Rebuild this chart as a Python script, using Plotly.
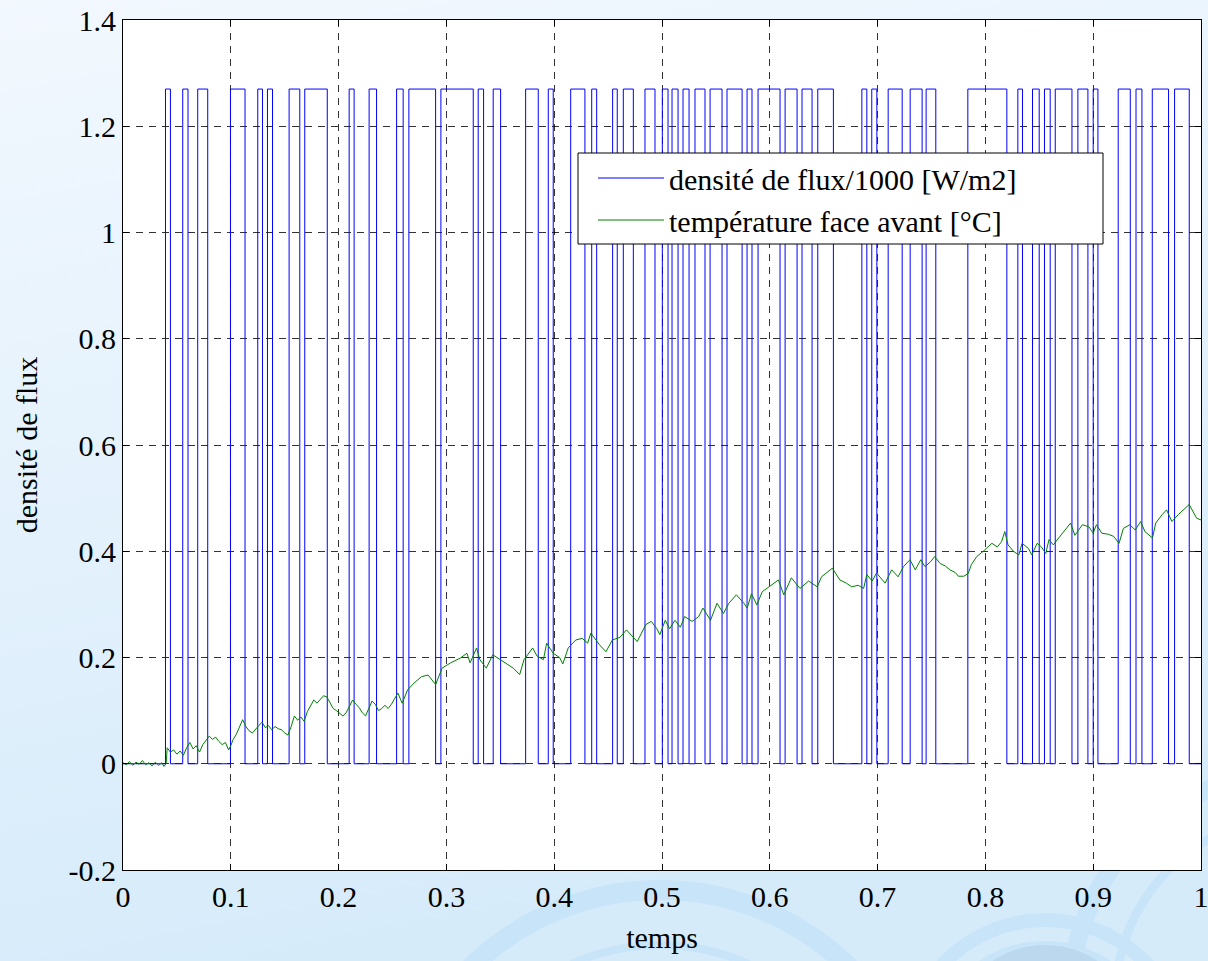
import base64
import plotly.graph_objects as go

# ---------------- data ----------------
FLUX_HIGH = 1.27  # flux density / 1000 during "on" periods

# PRBS flux: times where the flux switches on / off
rise_t = [0.0394, 0.0554, 0.0693, 0.0997, 0.1250, 0.1340, 0.1541, 0.1686, 0.2098, 0.2283,
          0.2538, 0.2652, 0.2949, 0.3295, 0.3434, 0.3735, 0.3945, 0.4153, 0.4348, 0.4542,
          0.4641, 0.4842, 0.5003, 0.5093, 0.5195, 0.5306, 0.5446, 0.5603, 0.5789, 0.5891,
          0.6142, 0.6299, 0.6445, 0.6854, 0.6946, 0.7098, 0.7302, 0.7450, 0.7837, 0.8301,
          0.8437, 0.8548, 0.8648, 0.8858, 0.9000, 0.9232, 0.9397, 0.9548, 0.9755]
fall_t = [0.0440, 0.0603, 0.0786, 0.1132, 0.1294, 0.1387, 0.1640, 0.1895, 0.2144, 0.2352,
          0.2599, 0.2900, 0.3249, 0.3345, 0.3503, 0.3852, 0.3991, 0.4285, 0.4394, 0.4585,
          0.4734, 0.4935, 0.5056, 0.5149, 0.5251, 0.5399, 0.5557, 0.5743, 0.5835, 0.6095,
          0.6253, 0.6392, 0.6590, 0.6900, 0.6993, 0.7228, 0.7413, 0.7540, 0.8199, 0.8344,
          0.8499, 0.8601, 0.8803, 0.8951, 0.9044, 0.9344, 0.9452, 0.9699, 0.9891]

# front face temperature
temp_t = [0.000, 0.003, 0.006, 0.009, 0.012, 0.015, 0.018, 0.021, 0.024, 0.027,
          0.030, 0.033, 0.036, 0.038, 0.040, 0.041, 0.044, 0.047, 0.050, 0.053,
          0.056, 0.059, 0.062, 0.065, 0.068, 0.071, 0.074, 0.077, 0.080, 0.083,
          0.086, 0.089, 0.092, 0.095, 0.098, 0.100, 0.102, 0.105, 0.108, 0.111,
          0.114, 0.117, 0.120, 0.123, 0.126, 0.129, 0.132, 0.135, 0.138, 0.141,
          0.144, 0.147, 0.150, 0.153, 0.156, 0.159, 0.162, 0.165, 0.168, 0.171,
          0.174, 0.177, 0.180, 0.183, 0.186, 0.189, 0.192, 0.195, 0.198, 0.201,
          0.204, 0.207, 0.210, 0.213, 0.216, 0.219, 0.222, 0.225, 0.228, 0.231,
          0.234, 0.237, 0.240, 0.243, 0.246, 0.249, 0.255, 0.259, 0.264, 0.270,
          0.277, 0.283, 0.290, 0.296, 0.304, 0.313, 0.319, 0.322, 0.328, 0.331,
          0.337, 0.343, 0.350, 0.356, 0.362, 0.368, 0.372, 0.380, 0.384, 0.390,
          0.393, 0.399, 0.405, 0.408, 0.413, 0.420, 0.426, 0.431, 0.434, 0.442,
          0.448, 0.454, 0.461, 0.467, 0.473, 0.477, 0.485, 0.490, 0.495, 0.498,
          0.503, 0.507, 0.512, 0.517, 0.521, 0.528, 0.534, 0.538, 0.545, 0.551,
          0.557, 0.562, 0.569, 0.576, 0.579, 0.583, 0.588, 0.593, 0.600, 0.608,
          0.613, 0.620, 0.628, 0.636, 0.644, 0.648, 0.658, 0.665, 0.671, 0.676,
          0.682, 0.687, 0.690, 0.695, 0.699, 0.707, 0.713, 0.719, 0.724, 0.730,
          0.735, 0.740, 0.744, 0.749, 0.753, 0.758, 0.763, 0.767, 0.772, 0.775,
          0.780, 0.784, 0.787, 0.792, 0.798, 0.806, 0.811, 0.815, 0.818, 0.821,
          0.826, 0.831, 0.834, 0.840, 0.843, 0.848, 0.852, 0.856, 0.859, 0.863,
          0.868, 0.874, 0.879, 0.883, 0.890, 0.896, 0.900, 0.903, 0.908, 0.914,
          0.919, 0.924, 0.928, 0.934, 0.939, 0.944, 0.948, 0.955, 0.958, 0.964,
          0.968, 0.973, 0.979, 0.989, 0.993, 0.996, 1.000]
temp_v = [0.002, -0.002, 0.004, -0.003, 0.003, -0.001, 0.006, -0.002, 0.002, -0.004,
          0.003, -0.003, 0.002, -0.005, 0.000, 0.030, 0.022, 0.026, 0.018, 0.024,
          0.016, 0.030, 0.040, 0.028, 0.034, 0.022, 0.036, 0.044, 0.052, 0.046,
          0.050, 0.042, 0.036, 0.040, 0.026, 0.034, 0.045, 0.055, 0.068, 0.083,
          0.070, 0.062, 0.058, 0.066, 0.072, 0.078, 0.068, 0.072, 0.064, 0.070,
          0.066, 0.064, 0.058, 0.054, 0.070, 0.090, 0.082, 0.088, 0.080, 0.098,
          0.108, 0.120, 0.114, 0.122, 0.128, 0.126, 0.114, 0.104, 0.100, 0.094,
          0.090, 0.096, 0.108, 0.120, 0.112, 0.106, 0.096, 0.090, 0.104, 0.118,
          0.112, 0.100, 0.104, 0.110, 0.104, 0.112, 0.133, 0.114, 0.139, 0.152,
          0.164, 0.167, 0.149, 0.180, 0.190, 0.199, 0.208, 0.190, 0.218, 0.196,
          0.180, 0.205, 0.196, 0.188, 0.180, 0.168, 0.196, 0.218, 0.203, 0.196,
          0.227, 0.208, 0.200, 0.188, 0.218, 0.233, 0.236, 0.227, 0.246, 0.224,
          0.211, 0.233, 0.238, 0.252, 0.240, 0.230, 0.262, 0.268, 0.255, 0.243,
          0.270, 0.254, 0.270, 0.257, 0.277, 0.268, 0.277, 0.293, 0.270, 0.302,
          0.283, 0.302, 0.318, 0.302, 0.293, 0.320, 0.299, 0.324, 0.334, 0.346,
          0.318, 0.350, 0.330, 0.344, 0.333, 0.352, 0.368, 0.346, 0.340, 0.333,
          0.336, 0.330, 0.356, 0.344, 0.359, 0.340, 0.365, 0.352, 0.371, 0.384,
          0.365, 0.384, 0.371, 0.380, 0.390, 0.377, 0.372, 0.365, 0.360, 0.353,
          0.353, 0.358, 0.375, 0.390, 0.400, 0.415, 0.408, 0.418, 0.437, 0.412,
          0.400, 0.393, 0.415, 0.405, 0.393, 0.415, 0.408, 0.396, 0.422, 0.412,
          0.425, 0.440, 0.453, 0.430, 0.450, 0.446, 0.434, 0.450, 0.434, 0.432,
          0.428, 0.415, 0.443, 0.450, 0.440, 0.456, 0.437, 0.425, 0.453, 0.469,
          0.478, 0.456, 0.469, 0.488, 0.472, 0.462, 0.459]

x_tick_vals = [0, 0.1, 0.2, 0.3, 0.4, 0.5, 0.6, 0.7, 0.8, 0.9, 1]
x_tick_text = ["0", "0.1", "0.2", "0.3", "0.4", "0.5", "0.6", "0.7", "0.8", "0.9", "1"]
y_tick_vals = [-0.2, 0, 0.2, 0.4, 0.6, 0.8, 1.0, 1.2, 1.4]
y_tick_text = ["-0.2", "0", "0.2", "0.4", "0.6", "0.8", "1", "1.2", "1.4"]

# ---------------- build square wave ----------------
flux_x = [0.0]
flux_y = [0.0]
for r, f in zip(rise_t, fall_t):
    flux_x += [r, f]
    flux_y += [FLUX_HIGH, 0.0]
flux_x.append(1.0)
flux_y.append(0.0)

FONT = "Liberation Serif, Times New Roman, serif"

fig = go.Figure()
fig.add_trace(go.Scatter(
    x=flux_x, y=flux_y, mode="lines", line_shape="hv",
    line=dict(color="#0000ff", width=1),
    name="densité de flux/1000 [W/m2]"))
fig.add_trace(go.Scatter(
    x=temp_t, y=temp_v, mode="lines",
    line=dict(color="#008000", width=1),
    name="température face avant [°C]"))

# background decoration (slide background)
svg = """<svg xmlns="http://www.w3.org/2000/svg" width="1208" height="961" viewBox="0 0 1208 961">
<defs><linearGradient id="g" x1="0" y1="0" x2="0.25" y2="1">
<stop offset="0" stop-color="#f2f8fe"/><stop offset="1" stop-color="#d6ebfa"/></linearGradient></defs>
<rect width="1208" height="961" fill="url(#g)"/>
<g fill="none" stroke="#c8e4f8">
<circle cx="660" cy="1160" r="270" stroke-width="20"/>
<circle cx="660" cy="1160" r="215" stroke-width="8"/>
<circle cx="1045" cy="1060" r="140" stroke-width="14"/>
<circle cx="1045" cy="1060" r="115" stroke-width="8"/>
<circle cx="1300" cy="1000" r="230" stroke-width="18"/>
<circle cx="1300" cy="1000" r="185" stroke-width="9"/>
</g>
<circle cx="1045" cy="1040" r="95" fill="#bcd8ee"/>
</svg>"""
src = "data:image/svg+xml;base64," + base64.b64encode(svg.encode("utf-8")).decode("ascii")

W, H = 1208, 961
L, R, T, B = 123, 7, 20, 91
pw, ph = W - L - R, H - T - B


def px_x(p):
    return (p - L) / pw


def px_y(p):
    return (H - B - p) / ph


fig.add_layout_image(dict(
    source=src, xref="paper", yref="paper",
    x=-L / pw, y=1 + T / ph, sizex=W / pw, sizey=H / ph,
    xanchor="left", yanchor="top", sizing="stretch", layer="below"))
fig.add_shape(type="rect", xref="paper", yref="paper", x0=0, x1=1, y0=0, y1=1,
              fillcolor="white", line=dict(width=0), layer="below")
# legend frame (box drawn over the curves, the legend entries sit on it)
fig.add_shape(type="rect", xref="paper", yref="paper",
              x0=px_x(578), x1=px_x(1103), y0=px_y(244), y1=px_y(153),
              fillcolor="white", line=dict(color="black", width=1), layer="above")

axis_common = dict(
    showline=True, linecolor="black", linewidth=1, mirror="ticks",
    ticks="inside", ticklen=6, tickcolor="black",
    showgrid=True, gridcolor="rgba(0,0,0,0.8)", gridwidth=1, griddash="7px,6px",
    zeroline=False, tickfont=dict(family=FONT, size=30, color="black"),
    automargin=False, ticklabeloverflow="allow",
)

fig.update_xaxes(range=[0, 1], tickvals=x_tick_vals, ticktext=x_tick_text,
                 title=dict(text="temps", font=dict(family=FONT, size=30, color="black"), standoff=14),
                 **axis_common)
fig.update_yaxes(range=[-0.2, 1.4], tickvals=y_tick_vals, ticktext=y_tick_text,
                 title=dict(text="densité de flux", font=dict(family=FONT, size=30, color="black"), standoff=22),
                 **axis_common)

fig.update_layout(
    width=W, height=H,
    margin=dict(l=L, r=R, t=T, b=B, pad=0),
    paper_bgcolor="#e4f2fc", plot_bgcolor="white",
    showlegend=True,
    legend=dict(
        orientation="v",
        x=px_x(593), y=px_y(152), xanchor="left", yanchor="top",
        bgcolor="rgba(0,0,0,0)", borderwidth=0,
        font=dict(family=FONT, size=30, color="black"),
        itemwidth=66, traceorder="normal",
    ),
)

fig.write_html("out.html")
